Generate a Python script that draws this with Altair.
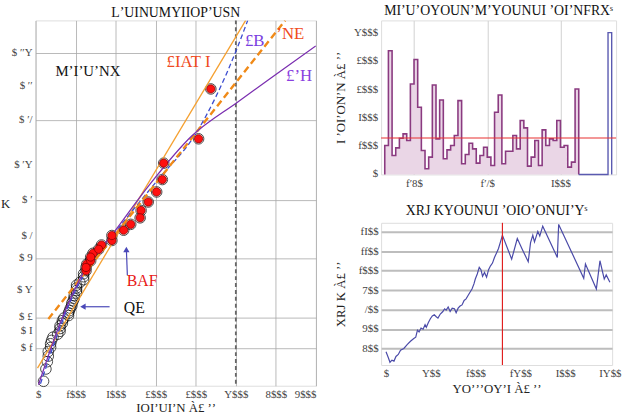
import altair as alt
import numpy as np
import pandas as pd

# ---------------- data ----------------
years = list(range(1952, 2005))
annual = [1024, 4376, 670, 940, 1280, 1435, 1200, 3200, 4070, 2376, 847, 200, 612,
          3165, 1260, 2635, 553, 870, 1024, 1376, 2611, 376, 706, 1106, 906, 400,
          670, 965, 612, 318, 2200, 2812, 376, 823, 823, 1376, 906, 1906, 1647, 294,
          612, 1200, 318, 1576, 1024, 1260, 1200, 1906, 965, 1024, 259, 435, 3024]
mean_level = [1290]
blue_years = [2005, 2006, 2007, 2008, 2009, 2010, 2011, 2012, 2013, 2014]
blue_vals = [0, 0, 0, 0, 0, 0, 0, 0, 5020, 0]

# fitted curves (x value, Gumbel reduced variate)
orange_thin_x = [49, 5246]
orange_thin_y = [-1.242, 5.968]
orange_dash_x = [320, 6232]
orange_dash_y = [-0.223, 5.968]
blue_dash_x = [123, 985, 1847, 3079, 3990, 5025, 5296]
blue_dash_y = [-1.567, 0.347, 1.406, 2.689, 3.606, 5.377, 5.968]
purple_x = [74, 616, 1232, 1897, 2833, 3892, 5049, 6034, 6995]
purple_y = [-1.588, -0.305, 0.795, 1.508, 2.547, 3.565, 4.278, 4.868, 5.439]
threshold_x = [5000]

prob_ticks = [0.1, 0.2, 0.3, 0.5, 0.7, 0.8, 0.9, 0.95, 0.98, 0.99, 0.995]
prob_labels = ["$ f", "$ I", "$ £", "$ Y", "$ 9", "$ /", "$ ′", "$ ′Y", "$ ′/", "$ ′′", "$ ′′Y"]
left_x_ticks = [0, 1000, 2000, 3000, 4000, 5000, 6000, 7000]
left_x_labels = ["$", "f$$$", "I$$$", "£$$$", "£$$$", "Y$$$", "8$$$", "9$$$"]

hist_y_ticks = [0, 1000, 2000, 3000, 4000, 5000]
hist_y_labels = ["$", "f$$$", "I$$$", "£$$$", "£$$$", "Y$$$"]
hist_x_ticks = [1960, 1980, 2000]
hist_x_labels = ["f′8$", "f′/$", "I$$$"]

series_x = [0, 26, 44, 66, 89, 111, 137, 162, 199, 236, 273, 310, 332, 351, 369, 391, 414,
            436, 450, 473, 495, 517, 539, 561, 580, 606, 635, 654, 672, 694, 716, 739, 764,
            783, 805, 827, 849, 872, 894, 916, 938, 960, 982, 997, 1019, 1041, 1060, 1078,
            1100, 1123, 1145, 1167, 1189, 1211, 1233, 1256, 1278, 1300, 1403, 1466, 1521,
            1588, 1614, 1639, 1658, 1695, 1717, 1750, 1913, 1928, 2208, 2227, 2349, 2389,
            2437, 2459, 2500]
series_y = [583, 552, 529, 540, 535, 559, 569, 591, 600, 620, 637, 651, 658, 694, 685, 705, 699,
            722, 709, 733, 753, 767, 773, 763, 756, 777, 790, 804, 797, 813, 790, 807, 804,
            784, 807, 818, 824, 847, 855, 872, 889, 906, 932, 957, 983, 1017, 1005, 971,
            991, 966, 1005, 1025, 1039, 1068, 1090, 1114, 1148, 1182, 1059, 1165, 1110,
            1046, 1144, 1182, 1148, 1202, 1178, 1229, 1068, 1238, 961, 1034, 906, 1051,
            957, 978, 940]
series_break = [1300]
ts_y_ticks = [600, 700, 800, 900, 1000, 1100, 1200]
ts_y_labels = ["8$$", "9$$", "/$$", "7$$", "f$$$", "ff$$", "fI$$"]
ts_x_ticks = [0, 500, 1000, 1500, 2000, 2500]
ts_x_labels = ["$", "Y$$", "f$$$", "fY$$", "I$$$", "IY$$"]

FONT = "Liberation Serif"
LBL = dict(labelFont=FONT, labelFontSize=11, labelColor="#444", labelOverlap=False,
           ticks=False, domain=False, labelPadding=3)
TTL = dict(titleFont=FONT, titleFontSize=13, titleFontWeight="normal", titleColor="#222")


def label_expr(ticks, labels):
    expr = f"'{labels[-1]}'"
    for i in range(len(ticks) - 2, -1, -1):
        mid = (ticks[i] + ticks[i + 1]) / 2
        expr = f"datum.value < {mid} ? '{labels[i]}' : ({expr})"
    return expr


def tick_labels(values, labels, scale):
    d = pd.DataFrame({"v": values, "lab": labels})
    return alt.Chart(d).mark_text(font=FONT, fontSize=11, color="#444", align="right",
                                  baseline="middle").encode(
        y=alt.Y("v:Q", scale=scale), x=alt.value(-3), text="lab:N")


# ---------------- left panel: Gumbel plot ----------------
red_ticks = [float(v) for v in -np.log(-np.log(np.array(prob_ticks)))]
df_pts = pd.DataFrame({"value": annual})

xs = alt.Scale(domain=[0, 7000], nice=False, zero=False)
ys = alt.Scale(domain=[-1.608, 5.968], nice=False, zero=False)

base_pts = alt.Chart(df_pts).transform_window(
    rank="row_number()", sort=[alt.SortField("value", order="ascending")]
).transform_joinaggregate(n="count()").transform_calculate(
    p="(datum.rank - 0.44) / (datum.n + 0.12)"
).transform_calculate(
    red="-log(-log(datum.p))"
)

x_enc = alt.X("value:Q", scale=xs, axis=alt.Axis(
    values=left_x_ticks, labelExpr=label_expr(left_x_ticks, left_x_labels),
    title="IOIʼUIʼN À£ ʼʼ", grid=True, gridColor="#a8a8a8", gridWidth=0.8,
    titlePadding=2, **LBL, **TTL))
y_enc = alt.Y("red:Q", scale=ys, axis=alt.Axis(
    values=red_ticks, labels=False, ticks=False, domain=False,
    title="K", titleAngle=0, titleAlign="right", titleBaseline="middle",
    grid=True, gridColor="#a8a8a8", gridWidth=0.8,
    minExtent=26, maxExtent=26, titlePadding=0, **TTL))

circles = base_pts.mark_point(shape="circle", size=115, filled=False, stroke="black",
                              strokeWidth=1).encode(x=x_enc, y=y_enc)
reds = base_pts.transform_filter("datum.rank > datum.n - 20").mark_point(
    shape="circle", size=70, filled=True, fill="#ff1010", stroke="#8a0000", strokeWidth=0.8,
    opacity=1).encode(x="value:Q", y="red:Q")


def curve(xv, yv, color, width, dash=None, interp="linear"):
    d = pd.DataFrame({"x": xv, "y": yv})
    kw = dict(color=color, strokeWidth=width, clip=True, interpolate=interp)
    if dash:
        kw["strokeDash"] = dash
    return alt.Chart(d).mark_line(**kw).encode(x=alt.X("x:Q", scale=xs),
                                               y=alt.Y("y:Q", scale=ys))


l_or_thin = curve(orange_thin_x, orange_thin_y, "#f5a030", 1.3)
l_or_dash = curve(orange_dash_x, orange_dash_y, "#f08a18", 2.4, [7, 4])
l_blue = curve(blue_dash_x, blue_dash_y, "#3b4cd0", 1.3, [5, 3], "monotone")
l_purple = curve(purple_x, purple_y, "#7b2fb0", 1.3, None, "monotone")
thr = alt.Chart(pd.DataFrame({"x": threshold_x})).mark_rule(
    color="#666", strokeWidth=1.8, strokeDash=[4, 3]).encode(x=alt.X("x:Q", scale=xs))
left_ylabels = tick_labels(red_ticks, prob_labels, ys)


def txt(s, px, py, color, size, weight="normal"):
    return alt.Chart(pd.DataFrame({"t": [s]})).mark_text(
        font=FONT, fontSize=size, color=color, fontWeight=weight).encode(
        text="t:N", x=alt.value(px), y=alt.value(py))


annots = [
    txt("MʼIʼUʼNX", 53, 51, "#111", 15),
    txt("£IAT I", 155, 42, "#f04a20", 17),
    txt("£B", 222, 21, "#7a40e0", 17),
    txt("ʼNE", 258, 14, "#f04a20", 17),
    txt("£ʼH", 267, 56, "#8a40e0", 17),
    txt("BAF", 108, 264, "#e81818", 16),
    txt("QE", 100, 291, "#111", 16),
]
arrow1 = alt.Chart(pd.DataFrame({"a": [0]})).mark_rule(color="#4a48b8", strokeWidth=1.2).encode(
    x=alt.value(93), y=alt.value(258), x2=alt.value(92), y2=alt.value(232))
head1 = alt.Chart(pd.DataFrame({"a": [0]})).mark_point(shape="triangle-up", filled=True,
                                                        color="#4a48b8", size=40, opacity=1).encode(
    x=alt.value(92), y=alt.value(232))
arrow2 = alt.Chart(pd.DataFrame({"a": [0]})).mark_rule(color="#4a48b8", strokeWidth=1.2).encode(
    x=alt.value(75), y=alt.value(290), x2=alt.value(48), y2=alt.value(290))
head2 = alt.Chart(pd.DataFrame({"a": [0]})).mark_point(shape="triangle-left", filled=True,
                                                        color="#4a48b8", size=40, opacity=1).encode(
    x=alt.value(48), y=alt.value(290))

left = alt.layer(circles, thr, l_or_thin, l_blue, l_or_dash, l_purple, reds,
                 arrow1, head1, arrow2, head2, left_ylabels, *annots).properties(
    width=284, height=370,
    title=alt.TitleParams("LʼUINUMYIIOPʼUSN", font=FONT, fontSize=14, fontWeight="normal",
                          color="#111", offset=0))

# ---------------- top right: annual histogram ----------------
hx = alt.Scale(domain=[1951, 2015.2], nice=False, zero=False)
hy = alt.Scale(domain=[0, 5450], nice=False)
step_df = pd.DataFrame({"year": [years[0]] + years + [years[-1] + 1],
                        "v": [0] + annual + [0]})
blue_df = pd.DataFrame({"year": blue_years, "v": blue_vals})

hx_enc = alt.X("year:Q", scale=hx, axis=alt.Axis(
    values=hist_x_ticks, labelExpr=label_expr(hist_x_ticks, hist_x_labels), title=None,
    grid=True, gridColor="#d0d0d0", **LBL))
hy_enc = alt.Y("v:Q", scale=hy, stack=None, axis=alt.Axis(
    values=hist_y_ticks, labels=False, ticks=False, domain=False,
    title="I ʼOIʼONʼN À£ ʼʼ", grid=False, minExtent=31, maxExtent=31, titlePadding=3,
    **TTL))

h_area = alt.Chart(step_df).mark_area(interpolate="step-after", color="#ead6e6",
                                      opacity=1).encode(x=hx_enc, y=hy_enc)
h_line = alt.Chart(step_df).mark_line(interpolate="step-after", color="#8a3a80",
                                      strokeWidth=1.6).encode(x="year:Q", y="v:Q")
b_line = alt.Chart(blue_df).mark_line(interpolate="step-after", color="#5a5ab0",
                                      strokeWidth=1.4).encode(x="year:Q", y="v:Q")
h_mean = alt.Chart(pd.DataFrame({"m": mean_level})).mark_rule(
    color="#e83030", strokeWidth=1.1).encode(y="m:Q")
h_ylabels = tick_labels(hist_y_ticks, hist_y_labels, hy)

top_right = alt.layer(h_area, h_line, b_line, h_mean, h_ylabels).properties(
    width=238, height=156,
    title=alt.TitleParams("MIʼUʼOYOUNʼMʼYOUNUI ʼOIʼNFRXˢ", font=FONT, fontSize=14,
                          fontWeight="normal", color="#111", offset=3))

# ---------------- bottom right: time series ----------------
tx = alt.Scale(domain=[-55, 2525], nice=False, zero=False)
ty = alt.Scale(domain=[515, 1246], nice=False, zero=False)
ts_df = pd.DataFrame({"t": series_x, "v": series_y})
ts_line = alt.Chart(ts_df).mark_line(color="#4a4aa8", strokeWidth=1.2).encode(
    x=alt.X("t:Q", scale=tx, axis=alt.Axis(
        values=ts_x_ticks, labelExpr=label_expr(ts_x_ticks, ts_x_labels),
        title="YOʼʼʼOYʼI À£ ʼʼ", grid=False, titlePadding=4, **LBL, **TTL)),
    y=alt.Y("v:Q", scale=ty, axis=alt.Axis(
        values=ts_y_ticks, labelExpr=label_expr(ts_y_ticks, ts_y_labels),
        title="XRJ K À£ ʼʼ", grid=True, gridColor="#bdbdbd", gridWidth=2,
        minExtent=30, maxExtent=30, titlePadding=4, **LBL, **TTL)))
ts_break = alt.Chart(pd.DataFrame({"b": series_break})).mark_rule(
    color="#e02020", strokeWidth=1.2).encode(x=alt.X("b:Q", scale=tx))

bottom_right = alt.layer(ts_line, ts_break).properties(
    width=234, height=144,
    title=alt.TitleParams("XRJ KYOUNUI ʼOIOʼONUIʼYˢ", font=FONT, fontSize=14,
                          fontWeight="normal", color="#111", offset=4))

right = alt.vconcat(top_right, bottom_right, spacing=14)
chart = alt.hconcat(left, right, spacing=17).properties(
    padding={"left": 0, "top": 0, "right": 0, "bottom": 0}
).configure_view(stroke="#555", strokeWidth=1).configure_axis(
    labelOverlap=False).configure(background="white")

chart.save("out.html", embed_options={"renderer": "svg", "actions": False})
